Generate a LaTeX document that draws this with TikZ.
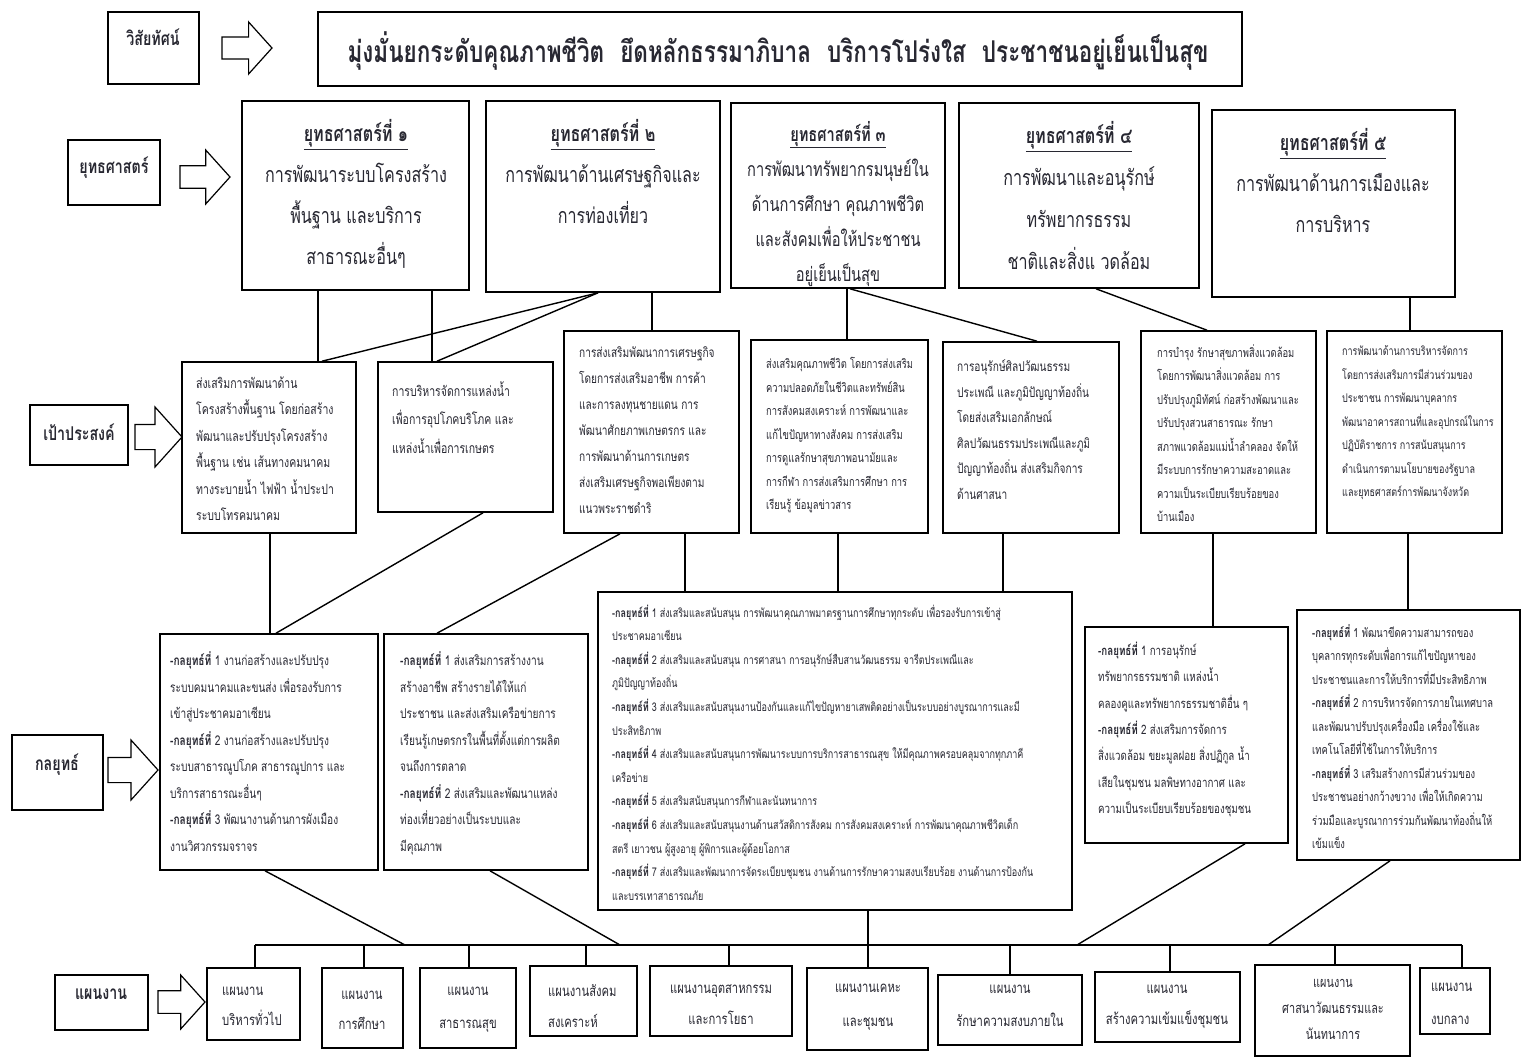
\documentclass[tikz,border=0pt]{standalone}
\usepackage{fontspec}
\setmainfont{Loma}[Script=Thai,FakeStretch=0.75]
\definecolor{ink}{RGB}{40,40,50}
\tikzset{
  box/.style={draw=black, line width=1.6pt, inner sep=0pt, fill=white},
  conn/.style={draw=black, line width=1.4pt},
  arr/.style={draw=black, line width=1.2pt, fill=white, line join=miter},
  tx/.style={inner sep=0pt, text=ink, align=left, anchor=north west},
  txc/.style={inner sep=0pt, text=ink, align=center, anchor=north},
}
% box: name, x1, y1, x2, y2
\newcommand\bx[5]{\node[box, minimum width={(#4-#2)*1pt}, minimum height={(#5-#3)*1pt}] (#1) at ({(#2+#4)/2},{(#3+#5)/2}) {};}
% left text: name, x, first line centre y, size, skip, text
\newcommand\tl[6]{\node[tx, font=\fontsize{#4}{#5}\selectfont] (#1) at ({#2},{#3-0.62*#4}) {#6};}
\newcommand\tc[6]{\node[txc, font=\fontsize{#4}{#5}\selectfont] (#1) at ({#2},{#3-0.62*#4}) {#6};}
% block arrow: x1, x2, yc, half head
\newcommand\barrow[4]{\draw[arr] ({#1},{#3-0.42*#4}) -- ({#2-0.9*#4},{#3-0.42*#4}) -- ({#2-0.9*#4},{#3-#4}) -- ({#2},{#3}) -- ({#2-0.9*#4},{#3+#4}) -- ({#2-0.9*#4},{#3+0.42*#4}) -- ({#1},{#3+0.42*#4}) -- cycle;}
\newcommand\kl[1]{\textbf{-กลยุทธ์ที่} #1}
\begin{document}
\begin{tikzpicture}[x=1pt,y=-1pt]
\useasboundingbox (0,0) rectangle (1522,1063);
\fill[white] (0,0) rectangle (1522,1063);

% ---------- left labels ----------
\bx{lv}{108}{12}{199}{84}
\tc{lvt}{153}{40}{19}{24}{\textbf{วิสัยทัศน์}}
\bx{ls}{68}{140}{160}{205}
\tc{lst}{114}{168}{19}{24}{\textbf{ยุทธศาสตร์}}
\bx{lo}{30}{405}{128}{465}
\tc{lot}{79}{435}{19}{24}{\textbf{เป้าประสงค์}}
\bx{lk}{12}{735}{103}{810}
\tc{lkt}{57}{765}{19}{24}{\textbf{กลยุทธ์}}
\bx{lp}{55}{975}{148}{1030}
\tc{lpt}{101}{1000}{19}{24}{\textbf{แผนงาน}}

\barrow{222}{272}{48}{26}
\barrow{180}{230}{177}{27}
\barrow{135}{182}{437}{30}
\barrow{108}{158}{770}{30}
\barrow{158}{205}{1002}{27}

% ---------- vision ----------
\bx{vis}{318}{12}{1242}{86}
\tc{vist}{778}{50}{30}{36}{\textbf{มุ่งมั่นยกระดับคุณภาพชีวิต\hspace{16pt}ยึดหลักธรรมาภิบาล\hspace{16pt}บริการโปร่งใส\hspace{16pt}ประชาชนอยู่เย็นเป็นสุข}}

% ---------- strategies ----------
\bx{s1}{242}{101}{469}{290}
\tc{s1t}{356}{133}{21.5}{41}{\textbf{\underline{ยุทธศาสตร์ที่ ๑}}\\การพัฒนาระบบโครงสร้าง\\พื้นฐาน และบริการ\\สาธารณะอื่นๆ}
\bx{s2}{486}{101}{720}{292}
\tc{s2t}{603}{133}{21.5}{41}{\textbf{\underline{ยุทธศาสตร์ที่ ๒}}\\การพัฒนาด้านเศรษฐกิจและ\\การท่องเที่ยว}
\bx{s3}{731}{103}{945}{288}
\tc{s3t}{838}{133}{19.5}{35}{\textbf{\underline{ยุทธศาสตร์ที่ ๓}}\\การพัฒนาทรัพยากรมนุษย์ใน\\ด้านการศึกษา คุณภาพชีวิต\\และสังคมเพื่อให้ประชาชน\\อยู่เย็นเป็นสุข}
\bx{s4}{959}{103}{1199}{288}
\tc{s4t}{1079}{135}{21.5}{42}{\textbf{\underline{ยุทธศาสตร์ที่ ๔}}\\การพัฒนาและอนุรักษ์\\ทรัพยากรธรรม\\ชาติและสิ่งแ วดล้อม}
\bx{s5}{1212}{110}{1455}{297}
\tc{s5t}{1333}{142}{21.5}{41}{\textbf{\underline{ยุทธศาสตร์ที่ ๕}}\\การพัฒนาด้านการเมืองและ\\การบริหาร}

% ---------- objectives ----------
\bx{o1}{182}{362}{356}{533}
\tl{o1t}{196}{385}{14}{26.5}{ส่งเสริมการพัฒนาด้าน\\โครงสร้างพื้นฐาน โดยก่อสร้าง\\พัฒนาและปรับปรุงโครงสร้าง\\พื้นฐาน เช่น เส้นทางคมนาคม\\ทางระบายน้ำ ไฟฟ้า น้ำประปา\\ระบบโทรคมนาคม}
\bx{o2}{378}{362}{553}{512}
\tl{o2t}{392}{390}{14}{28.5}{การบริหารจัดการแหล่งน้ำ\\เพื่อการอุปโภคบริโภค และ\\แหล่งน้ำเพื่อการเกษตร}
\bx{o3}{564}{331}{739}{533}
\tl{o3t}{579}{355}{13.5}{26}{การส่งเสริมพัฒนาการเศรษฐกิจ\\โดยการส่งเสริมอาชีพ การค้า\\และการลงทุนชายแดน การ\\พัฒนาศักยภาพเกษตรกร และ\\การพัฒนาด้านการเกษตร\\ส่งเสริมเศรษฐกิจพอเพียงตาม\\แนวพระราชดำริ}
\bx{o4}{751}{340}{928}{533}
\tl{o4t}{766}{365}{12.5}{23.5}{ส่งเสริมคุณภาพชีวิต โดยการส่งเสริม\\ความปลอดภัยในชีวิตและทรัพย์สิน\\การสังคมสงเคราะห์ การพัฒนาและ\\แก้ไขปัญหาทางสังคม การส่งเสริม\\การดูแลรักษาสุขภาพอนามัยและ\\การกีฬา การส่งเสริมการศึกษา การ\\เรียนรู้ ข้อมูลข่าวสาร}
\bx{o5}{943}{342}{1119}{533}
\tl{o5t}{957}{368}{13.5}{25.5}{การอนุรักษ์ศิลปวัฒนธรรม\\ประเพณี และภูมิปัญญาท้องถิ่น\\โดยส่งเสริมเอกลักษณ์\\ศิลปวัฒนธรรมประเพณีและภูมิ\\ปัญญาท้องถิ่น ส่งเสริมกิจการ\\ด้านศาสนา}
\bx{o6}{1141}{331}{1316}{533}
\tl{o6t}{1157}{352}{12.5}{23.5}{การบำรุง รักษาสุขภาพสิ่งแวดล้อม\\โดยการพัฒนาสิ่งแวดล้อม การ\\ปรับปรุงภูมิทัศน์ ก่อสร้างพัฒนาและ\\ปรับปรุงสวนสาธารณะ รักษา\\สภาพแวดล้อมแม่น้ำลำคลอง จัดให้\\มีระบบการรักษาความสะอาดและ\\ความเป็นระเบียบเรียบร้อยของ\\บ้านเมือง}
\bx{o7}{1327}{331}{1502}{533}
\tl{o7t}{1342}{353}{12}{23.5}{การพัฒนาด้านการบริหารจัดการ\\โดยการส่งเสริมการมีส่วนร่วมของ\\ประชาชน การพัฒนาบุคลากร\\พัฒนาอาคารสถานที่และอุปกรณ์ในการ\\ปฏิบัติราชการ การสนับสนุนการ\\ดำเนินการตามนโยบายของรัฐบาล\\และยุทธศาสตร์การพัฒนาจังหวัด}

% ---------- tactics ----------
\bx{t1}{160}{634}{378}{870}
\tl{t1t}{170}{660}{13.5}{26.5}{\kl{1} งานก่อสร้างและปรับปรุง\\ระบบคมนาคมและขนส่ง เพื่อรองรับการ\\เข้าสู่ประชาคมอาเซียน\\\kl{2} งานก่อสร้างและปรับปรุง\\ระบบสาธารณูปโภค สาธารณูปการ และ\\บริการสาธารณะอื่นๆ\\\kl{3} พัฒนางานด้านการผังเมือง\\งานวิศวกรรมจราจร}
\bx{t2}{384}{634}{588}{870}
\tl{t2t}{400}{660}{13.5}{26.5}{\kl{1} ส่งเสริมการสร้างงาน\\สร้างอาชีพ สร้างรายได้ให้แก่\\ประชาชน และส่งเสริมเครือข่ายการ\\เรียนรู้เกษตรกรในพื้นที่ตั้งแต่การผลิต\\จนถึงการตลาด\\\kl{2} ส่งเสริมและพัฒนาแหล่ง\\ท่องเที่ยวอย่างเป็นระบบและ\\มีคุณภาพ}
\bx{t3}{598}{592}{1072}{910}
\tl{t3t}{612}{612}{12}{23.6}{\kl{1} ส่งเสริมและสนับสนุน การพัฒนาคุณภาพมาตรฐานการศึกษาทุกระดับ เพื่อรองรับการเข้าสู่\\ประชาคมอาเซียน\\\kl{2} ส่งเสริมและสนับสนุน การศาสนา การอนุรักษ์สืบสานวัฒนธรรม จารีตประเพณีและ\\ภูมิปัญญาท้องถิ่น\\\kl{3} ส่งเสริมและสนับสนุนงานป้องกันและแก้ไขปัญหายาเสพติดอย่างเป็นระบบอย่างบูรณาการและมี\\ประสิทธิภาพ\\\kl{4} ส่งเสริมและสนับสนุนการพัฒนาระบบการบริการสาธารณสุข ให้มีคุณภาพครอบคลุมจากทุกภาคี\\เครือข่าย\\\kl{5} ส่งเสริมสนับสนุนการกีฬาและนันทนาการ\\\kl{6} ส่งเสริมและสนับสนุนงานด้านสวัสดิการสังคม การสังคมสงเคราะห์ การพัฒนาคุณภาพชีวิตเด็ก\\สตรี เยาวชน ผู้สูงอายุ ผู้พิการและผู้ด้อยโอกาส\\\kl{7} ส่งเสริมและพัฒนาการจัดระเบียบชุมชน งานด้านการรักษาความสงบเรียบร้อย งานด้านการป้องกัน\\และบรรเทาสาธารณภัย}
\bx{t4}{1085}{627}{1288}{843}
\tl{t4t}{1098}{650}{13}{26.3}{\kl{1} การอนุรักษ์\\ทรัพยากรธรรมชาติ แหล่งน้ำ\\คลองคูและทรัพยากรธรรมชาติอื่น ๆ\\\kl{2} ส่งเสริมการจัดการ\\สิ่งแวดล้อม ขยะมูลฝอย สิ่งปฏิกูล น้ำ\\เสียในชุมชน มลพิษทางอากาศ และ\\ความเป็นระเบียบเรียบร้อยของชุมชน}
\bx{t5}{1297}{610}{1520}{860}
\tl{t5t}{1312}{632}{12.5}{23.5}{\kl{1} พัฒนาขีดความสามารถของ\\บุคลากรทุกระดับเพื่อการแก้ไขปัญหาของ\\ประชาชนและการให้บริการที่มีประสิทธิภาพ\\\kl{2} การบริหารจัดการภายในเทศบาล\\และพัฒนาปรับปรุงเครื่องมือ เครื่องใช้และ\\เทคโนโลยีที่ใช้ในการให้บริการ\\\kl{3} เสริมสร้างการมีส่วนร่วมของ\\ประชาชนอย่างกว้างขวาง เพื่อให้เกิดความ\\ร่วมมือและบูรณาการร่วมกันพัฒนาท้องถิ่นให้\\เข้มแข็ง}

% ---------- plans ----------
\bx{p1}{207}{968}{300}{1040}
\tl{p1t}{222}{996}{15}{30}{แผนงาน\\บริหารทั่วไป}
\bx{p2}{322}{968}{403}{1048}
\tc{p2t}{362}{1000}{15}{30}{แผนงาน\\การศึกษา}
\bx{p3}{420}{968}{516}{1048}
\tc{p3t}{468}{996}{15}{33}{แผนงาน\\สาธารณสุข}
\bx{p4}{530}{966}{637}{1036}
\tl{p4t}{548}{994}{15}{31}{แผนงานสังคม\\สงเคราะห์}
\bx{p5}{650}{966}{792}{1036}
\tc{p5t}{721}{994}{15}{31}{แผนงานอุตสาหกรรม\\และการโยธา}
\bx{p6}{807}{968}{928}{1050}
\tc{p6t}{868}{993}{15}{34}{แผนงานเคหะ\\และชุมชน}
\bx{p7}{938}{975}{1082}{1045}
\tc{p7t}{1010}{994}{15}{33}{แผนงาน\\รักษาความสงบภายใน}
\bx{p8}{1095}{972}{1240}{1042}
\tc{p8t}{1167}{994}{15}{31}{แผนงาน\\สร้างความเข้มแข็งชุมชน}
\bx{p9}{1255}{965}{1410}{1056}
\tc{p9t}{1333}{988}{14.5}{26}{แผนงาน\\ศาสนาวัฒนธรรมและ\\นันทนาการ}
\bx{p10}{1420}{968}{1490}{1034}
\tl{p10t}{1431}{992}{15}{33}{แผนงาน\\งบกลาง}

% ---------- connectors: strategies -> objectives ----------
\draw[conn] (318,0 |- s1.south) -- (318,0 |- o1.north);
\draw[conn] (432,0 |- s1.south) -- (432,0 |- o2.north);
\draw[conn] (598,0 |- s2.south) -- (322,0 |- o1.north);
\draw[conn] (598,0 |- s2.south) -- (437,0 |- o2.north);
\draw[conn] (652,0 |- s2.south) -- (652,0 |- o3.north);
\draw[conn] (847,0 |- s3.south) -- (847,0 |- o4.north);
\draw[conn] (850,0 |- s3.south) -- (1037,0 |- o5.north);
\draw[conn] (1096,0 |- s4.south) -- (1207,0 |- o6.north);
\draw[conn] (1410,0 |- s5.south) -- (1410,0 |- o7.north);

% ---------- objectives -> tactics ----------
\draw[conn] (270,0 |- o1.south) -- (270,0 |- t1.north);
\draw[conn] (483,0 |- o2.south) -- (276,0 |- t1.north);
\draw[conn] (620,0 |- o3.south) -- (437,0 |- t2.north);
\draw[conn] (685,0 |- o3.south) -- (685,0 |- t3.north);
\draw[conn] (838,0 |- o4.south) -- (838,0 |- t3.north);
\draw[conn] (1003,0 |- o5.south) -- (1003,0 |- t3.north);
\draw[conn] (1213,0 |- o6.south) -- (1213,0 |- t4.north);
\draw[conn] (1408,0 |- o7.south) -- (1408,0 |- t5.north);

% ---------- tactics -> bus -> plans ----------
\coordinate (bL) at (255,945);
\coordinate (bR) at (1462,945);
\coordinate (j1) at (405,945);
\coordinate (j2) at (620,945);
\coordinate (j3) at (868,945);
\coordinate (j4) at (1077,945);
\coordinate (j5) at (1268,945);
\draw[conn] (bL) -- (bR);
\draw[conn] (265,0 |- t1.south) -- (j1);
\draw[conn] (490,0 |- t2.south) -- (j2);
\draw[conn] (868,0 |- t3.south) -- (j3);
\draw[conn] (1245,0 |- t4.south) -- (j4);
\draw[conn] (1390,0 |- t5.south) -- (j5);
\draw[conn] (bL) -- (255,0 |- p1.north);
\draw[conn] (364,945) -- (364,0 |- p2.north);
\draw[conn] (469,945) -- (469,0 |- p3.north);
\draw[conn] (586,945) -- (586,0 |- p4.north);
\draw[conn] (729,945) -- (729,0 |- p5.north);
\draw[conn] (j3) -- (868,0 |- p6.north);
\draw[conn] (1010,945) -- (1010,0 |- p7.north);
\draw[conn] (1170,945) -- (1170,0 |- p8.north);
\draw[conn] (1335,945) -- (1335,0 |- p9.north);
\draw[conn] (bR) -- (1462,0 |- p10.north);
\end{tikzpicture}
\end{document}
